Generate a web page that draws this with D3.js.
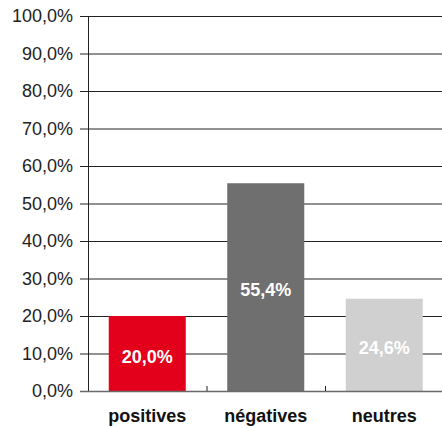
<!DOCTYPE html>
<html>
<head>
<meta charset="utf-8">
<script src="https://cdn.jsdelivr.net/npm/d3@7"></script>
<style>
  body { margin: 0; background: #fff; }
  text { font-family: "Liberation Sans", Arial, sans-serif; }
</style>
</head>
<body>
<svg id="chart" width="442" height="428"></svg>
<script>
var categories = ['positives', 'négatives', 'neutres'];
var values = [20.0, 55.4, 24.6];
var colors = ['#e2001a', '#6f6f6f', '#d0d0d0'];
var yTicks = [0, 10, 20, 30, 40, 50, 60, 70, 80, 90, 100];

var width = 442;
var height = 428;
var plotLeft = 88, plotRight = 443.5, plotTop = 16, plotBottom = 391;
var fontSize = 18;

var svg = d3.select('#chart');
var fmt = function (d) { return d.toFixed(1).replace('.', ',') + '%'; };

var x = d3.scaleBand().domain(categories).range([plotLeft, plotRight])
  .paddingInner(0.35).paddingOuter(0.175);
var y = d3.scaleLinear().domain([0, 100]).range([plotBottom, plotTop]);

// horizontal gridlines + y ticks
svg.append('g').selectAll('line')
  .data(yTicks.slice(1)).enter().append('line')
  .attr('x1', plotLeft - 8).attr('x2', width)
  .attr('y1', d => y(d) + 0.5).attr('y2', d => y(d) + 0.5)
  .attr('stroke', '#222').attr('stroke-width', 1);

// bars
svg.selectAll('.bar')
  .data(values).enter().append('rect')
  .attr('class', 'bar')
  .attr('x', (d, i) => x(categories[i]))
  .attr('width', x.bandwidth())
  .attr('y', d => y(d))
  .attr('height', d => plotBottom - y(d))
  .attr('fill', (d, i) => colors[i]);

// bar labels
svg.selectAll('.label')
  .data(values).enter().append('text')
  .attr('class', 'label')
  .attr('x', (d, i) => x(categories[i]) + x.bandwidth() / 2)
  .attr('y', d => (y(d) + plotBottom) / 2 + 3)
  .attr('dy', '.35em')
  .attr('text-anchor', 'middle')
  .attr('font-size', fontSize)
  .attr('font-weight', 'bold')
  .attr('fill', '#fff')
  .text(fmt);

// y axis line
svg.append('line')
  .attr('x1', plotLeft + 0.5).attr('x2', plotLeft + 0.5)
  .attr('y1', plotTop).attr('y2', plotBottom)
  .attr('stroke', '#222');

// baseline
svg.append('line')
  .attr('x1', plotLeft - 8).attr('x2', width)
  .attr('y1', plotBottom + 0.5).attr('y2', plotBottom + 0.5)
  .attr('stroke', '#6a6a6a').attr('stroke-width', 1.5);

// category boundary ticks
var step = x.step();
svg.append('g').selectAll('line')
  .data(categories.slice(1)).enter().append('line')
  .attr('x1', d => x(d) - step * 0.175 + 0.5)
  .attr('x2', d => x(d) - step * 0.175 + 0.5)
  .attr('y1', plotBottom - 5).attr('y2', plotBottom)
  .attr('stroke', '#222');

// y tick labels
svg.append('g').selectAll('text')
  .data(yTicks).enter().append('text')
  .attr('x', plotLeft - 15)
  .attr('y', d => y(d))
  .attr('dy', '.35em')
  .attr('text-anchor', 'end')
  .attr('font-size', fontSize)
  .attr('fill', '#222')
  .text(fmt);

// x labels
svg.append('g').selectAll('text')
  .data(categories).enter().append('text')
  .attr('x', d => x(d) + x.bandwidth() / 2)
  .attr('y', 416)
  .attr('dy', '.35em')
  .attr('text-anchor', 'middle')
  .attr('font-size', fontSize)
  .attr('font-weight', 'bold')
  .attr('fill', '#111')
  .text(d => d);
</script>
</body>
</html>
